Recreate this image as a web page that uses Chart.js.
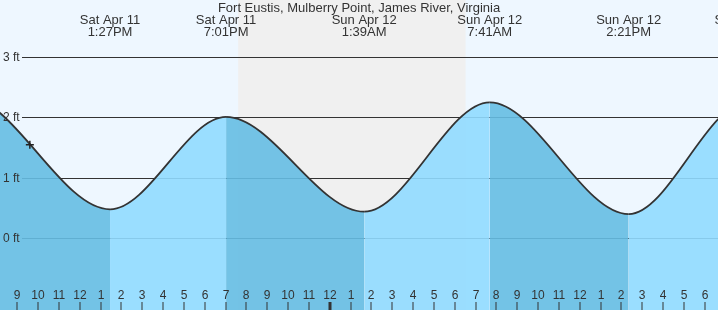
<!DOCTYPE html>
<html><head><meta charset="utf-8">
<script src="https://cdn.jsdelivr.net/npm/chart.js@4.4.1/dist/chart.umd.min.js"></script>
<style>html,body{margin:0;padding:0;background:#eef7ff;overflow:hidden}canvas{display:block}</style>
</head><body>
<canvas id="c" width="718" height="310"></canvas>
<script>
const chartTitle = 'Fort Eustis, Mulberry Point, James River, Virginia';
// tide extremes: hours since Sat Apr 11 00:00, height in feet
const tideHours = [0.17, 6.48, 13.45, 19.02, 25.65, 31.68, 38.35, 44.03, 50.8];
const tideFeet  = [0.50, 2.35, 0.48, 2.01, 0.44, 2.25, 0.40, 2.25, 0.45];
const extremeDates = ['Sat Apr 11','Sat Apr 11','Sat Apr 11','Sat Apr 11','Sun Apr 12','Sun Apr 12','Sun Apr 12','Sun Apr 12','Mon Apr 13'];
const extremeTimes = ['12:10AM','6:29AM','1:27PM','7:01PM','1:39AM','7:41AM','2:21PM','8:02PM','2:48AM'];
// hour ticks along the bottom
const hourTicks = [9,10,11,12,13,14,15,16,17,18,19,20,21,22,23,24,25,26,27,28,29,30,31,32,33,34,35,36,37,38,39,40,41,42];
const hourLabels = ['9','10','11','12','1','2','3','4','5','6','7','8','9','10','11','12','1','2','3','4','5','6','7','8','9','10','11','12','1','2','3','4','5','6'];
const midnightHour = 24;
// height gridlines
const feetTicks = [0, 1, 2, 3];
const feetLabels = ['0 ft', '1 ft', '2 ft', '3 ft'];
// night (sunset Sat -> sunrise Sun)
const sunsetHour = 19.6;
const sunriseHour = 30.52;
// current time marker
const nowHour = 9.6;
const nowFeet = 1.55;
// visible window
const viewStartHour = 8.167;
const viewEndHour = 42.637;
const viewMinFeet = -1.187;
const viewMaxFeet = 3.945;

const dayBg = '#eef7ff';
const nightBg = '#f0f0f0';
const fallColor = 'rgba(101,188,227,0.9)';
const riseColor = 'rgba(144,218,255,0.9)';
const textColor = '#333333';
const FONT = '"Liberation Sans", Arial, sans-serif';

const tidePoints = tideHours.map((h, i) => ({x: h, y: tideFeet[i]}));

const bgPlugin = {
  id: 'bg',
  beforeDraw(chart) {
    const {ctx, width, height} = chart;
    const xs = chart.scales.x;
    ctx.save();
    ctx.fillStyle = dayBg;
    ctx.fillRect(0, 0, width, height);
    const x0 = xs.getPixelForValue(sunsetHour), x1 = xs.getPixelForValue(sunriseHour);
    ctx.fillStyle = nightBg;
    ctx.fillRect(x0, 0, x1 - x0, height);
    ctx.restore();
  },
  beforeDatasetsDraw(chart) {
    const {ctx, width} = chart;
    const ys = chart.scales.y;
    ctx.save();
    ctx.strokeStyle = '#333333';
    ctx.lineWidth = 1;
    feetTicks.forEach(v => {
      const y = Math.round(ys.getPixelForValue(v)) + 0.5;
      ctx.beginPath();
      ctx.moveTo(22, y);
      ctx.lineTo(width, y);
      ctx.stroke();
    });
    ctx.restore();
  },
  afterDatasetsDraw(chart) {
    const {ctx, width, height} = chart;
    const xs = chart.scales.x, ys = chart.scales.y;
    ctx.save();
    ctx.fillStyle = textColor;
    // y labels
    ctx.font = '12px ' + FONT;
    ctx.textAlign = 'left';
    ctx.textBaseline = 'middle';
    feetTicks.forEach((v, i) => {
      ctx.fillText(feetLabels[i], 3, ys.getPixelForValue(v) + 0.5);
    });
    // title
    ctx.font = '13px ' + FONT;
    ctx.textAlign = 'center';
    ctx.fillText(chartTitle, width / 2, 8);
    // extremes labels
    tideHours.forEach((h, i) => {
      const x = xs.getPixelForValue(h);
      ctx.fillText(extremeDates[i], x, 20);
      ctx.fillText(extremeTimes[i], x, 32);
    });
    // hour labels & ticks
    ctx.font = '12px ' + FONT;
    hourTicks.forEach((h, i) => {
      const x = Math.round(xs.getPixelForValue(h));
      ctx.fillText(hourLabels[i], x, 296);
      if (h === midnightHour) {
        ctx.fillRect(x - 1.5, 302, 3, height - 302);
      } else {
        ctx.fillRect(x - 0.5, 302, 1, height - 302);
      }
    });
    ctx.restore();
  }
};

new Chart(document.getElementById('c'), {
  type: 'line',
  data: {
    datasets: [
      {
        data: [{x: nowHour, y: nowFeet}],
        showLine: false,
        fill: false,
        pointStyle: 'cross',
        pointRadius: 4,
        borderColor: '#222222',
        borderWidth: 1.5,
        pointBorderWidth: 1.5
      },
      {
        data: tidePoints,
        borderColor: '#333333',
        borderWidth: 1.8,
        pointRadius: 0,
        cubicInterpolationMode: 'monotone',
        capBezierPoints: false,
        fill: 'start',
        backgroundColor: fallColor,
        segment: {
          backgroundColor: c => (c.p0.parsed.y > c.p1.parsed.y ? fallColor : riseColor)
        }
      }
    ]
  },
  options: {
    responsive: false,
    animation: false,
    devicePixelRatio: 1,
    layout: {padding: 0, autoPadding: false},
    plugins: {legend: {display: false}, tooltip: {enabled: false}, title: {display: false}},
    scales: {
      x: {type: 'linear', display: false, min: viewStartHour, max: viewEndHour},
      y: {type: 'linear', display: false, min: viewMinFeet, max: viewMaxFeet}
    }
  },
  plugins: [bgPlugin]
});
</script>
</body></html>
